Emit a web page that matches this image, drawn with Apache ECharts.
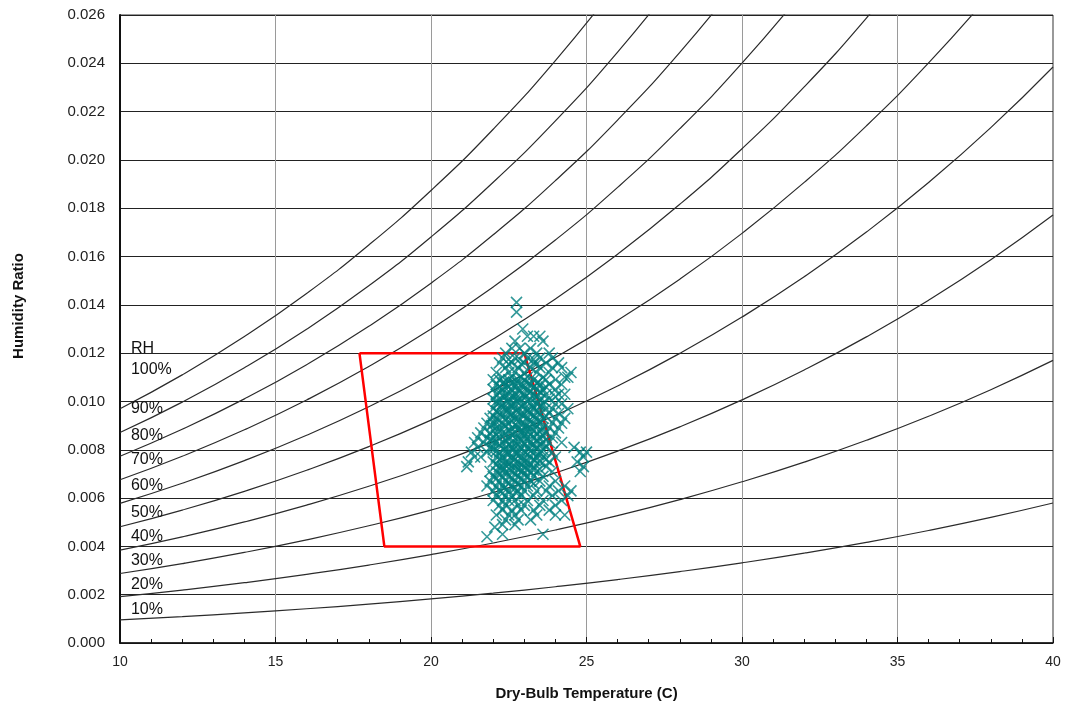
<!DOCTYPE html>
<html>
<head>
<meta charset="utf-8">
<script src="https://cdn.jsdelivr.net/npm/echarts@6/dist/echarts.min.js"></script>
<style>
html,body{margin:0;padding:0;background:#fff;}
#chart{width:1071px;height:711px;}
</style>
</head>
<body>
<div id="chart"></div>
<script>
// Dry-bulb temperatures at which the RH curves were read (C)
var temps = [10,12,14,16,18,20,22,24,26,28,30,32,34,36,38,40];
// Humidity ratio
var rh10  = [0.000956,0.001093,0.001246,0.001417,0.001609,0.001824,0.002063,0.002330,0.002626,0.002955,0.003319,0.003722,0.004168,0.004659,0.005200,0.005795];
var rh20  = [0.001916,0.002189,0.002496,0.002841,0.003227,0.003659,0.004141,0.004678,0.005275,0.005938,0.006674,0.007490,0.008392,0.009389,0.010488,0.011700];
var rh30  = [0.002878,0.003289,0.003752,0.004271,0.004853,0.005504,0.006232,0.007043,0.007946,0.008950,0.010066,0.011303,0.012673,0.014190,0.015867,0.017716];
var rh40  = [0.003843,0.004394,0.005013,0.005708,0.006488,0.007361,0.008337,0.009426,0.010640,0.011991,0.013494,0.015162,0.017013,0.019065,0.021337,0.023848];
var rh50  = [0.004812,0.005502,0.006279,0.007152,0.008131,0.009229,0.010456,0.011827,0.013357,0.015062,0.016960,0.019069,0.021412,0.024015,0.026901];
var rh60  = [0.005783,0.006614,0.007550,0.008602,0.009783,0.011107,0.012590,0.014247,0.016098,0.018162,0.020463,0.023024,0.025873,0.029043];
var rh70  = [0.006757,0.007730,0.008826,0.010059,0.011444,0.012997,0.014738,0.016685,0.018862,0.021293,0.024005,0.027028];
var rh80  = [0.007734,0.008850,0.010107,0.011522,0.013113,0.014898,0.016900,0.019142,0.021651,0.024454,0.027586];
var rh90  = [0.008715,0.009973,0.011394,0.012993,0.014791,0.016811,0.019078,0.021618,0.024463,0.027647];
var rh100 = [0.009698,0.011101,0.012686,0.014470,0.016478,0.018735,0.021270,0.024113,0.027301];
var rhCurves = [rh10,rh20,rh30,rh40,rh50,rh60,rh70,rh80,rh90,rh100];

// Curve labels at the left edge
var rhLabelText = ['RH','100%','90%','80%','70%','60%','50%','40%','30%','20%','10%'];
var rhLabelW    = [0.0122,0.0113,0.0097,0.0086,0.0076,0.0065,0.0054,0.0044,0.0034,0.0024,0.0014];
var rhLabelT    = 10.35;

// Comfort zone polygon
var zoneT = [17.7, 23.0, 24.8, 18.5, 17.7];
var zoneW = [0.012, 0.012, 0.004, 0.004, 0.012];

// Observed points: rows of humidity ratio with the temperatures seen in that row
var obsRows = [
  [0.0141,[22.75]],
  [0.0137,[22.75]],
  [0.0130,[22.95]],
  [0.0127,[23.1,23.3,23.5]],
  [0.0125,[22.7,23.6]],
  [0.0122,[22.6,22.85,23.2]],
  [0.0120,[22.4,23.0,23.4,23.8]],
  [0.0118,[22.3,22.7,23.1,23.5,23.9]],
  [0.01175,[22.5,22.85,23.3]],
  [0.0116,[22.2,22.6,23.0,23.3,23.7,24.1]],
  [0.01155,[22.5,22.9,23.4]],
  [0.0114,[22.4,22.8,23.2,23.5,23.9,24.2]],
  [0.0112,[22.1,22.5,22.7,23.0,23.4,23.8,24.5]],
  [0.0110,[22.3,22.6,22.9,23.1,23.6,24.3,24.4]],
  [0.0109,[22.0,22.2,22.5,22.8,23.0,23.3,23.7,24.0]],
  [0.0108,[22.35,22.65,23.05,23.45]],
  [0.01075,[22.3,22.55,22.8,23.15,23.4]],
  [0.0107,[22.1,22.4,22.7,22.9,23.2,23.5,23.8,24.2]],
  [0.0106,[22.2,22.5,22.95,23.3,23.7]],
  [0.0105,[22.0,22.3,22.6,22.8,23.1,23.4,23.6,24.0]],
  [0.0104,[22.25,22.85,23.2,23.5]],
  [0.01035,[22.2,22.55,22.9,23.15,23.55]],
  [0.0103,[22.1,22.4,22.5,22.7,23.0,23.3,23.7,24.1,24.3]],
  [0.0102,[22.35,22.65,23.05,23.4,24.0]],
  [0.0101,[22.0,22.2,22.5,22.8,22.9,23.2,23.5,23.8]],
  [0.0100,[22.1,22.45,22.75,23.1,23.65]],
  [0.00995,[22.2,22.5,22.85,23.2,23.45]],
  [0.0099,[22.1,22.3,22.6,22.7,23.0,23.4,23.6,24.0,24.2]],
  [0.0098,[22.25,22.55,22.9,23.25,23.5]],
  [0.0097,[22.0,22.4,22.5,22.8,23.1,23.3,23.7,23.9,24.4]],
  [0.0096,[22.1,22.45,22.75,23.1,23.4]],
  [0.00955,[22.15,22.5,22.8,23.15,23.45]],
  [0.0095,[22.2,22.3,22.6,22.9,23.0,23.2,23.5,23.8,24.1]],
  [0.0094,[22.0,22.55,22.95,23.3,23.7]],
  [0.0093,[21.9,22.1,22.4,22.7,22.8,23.1,23.4,23.6,24.0,24.3]],
  [0.0092,[22.2,22.6,23.15,23.45]],
  [0.00915,[22.1,22.45,22.8,23.2,23.55]],
  [0.0091,[21.8,22.0,22.3,22.5,22.9,23.0,23.3,23.5,23.9,24.2]],
  [0.0090,[21.95,22.4,22.75,23.05,23.4]],
  [0.0089,[21.7,22.1,22.2,22.6,22.8,23.1,23.2,23.6,23.8,24.1]],
  [0.0088,[22.0,22.5,22.95,23.3,23.55]],
  [0.00875,[22.15,22.55,22.85,23.15,23.5]],
  [0.0087,[21.6,21.9,22.3,22.4,22.7,22.9,23.0,23.4,23.7,24.0]],
  [0.0086,[22.1,22.6,23.0,23.2,23.6]],
  [0.0085,[21.5,21.8,22.0,22.2,22.5,22.8,23.1,23.3,23.5,23.9]],
  [0.0084,[21.9,22.4,22.9,23.4,23.7]],
  [0.00835,[22.0,22.45,22.8,23.1,23.45]],
  [0.0083,[21.4,21.7,22.1,22.3,22.6,22.7,23.0,23.2,23.6,23.8,24.2]],
  [0.0082,[22.2,22.5,22.8,23.25,23.5]],
  [0.0081,[21.5,21.9,22.0,22.4,22.6,22.9,23.1,23.4,23.7,24.6]],
  [0.0080,[22.0,22.35,22.65,23.15,23.6]],
  [0.00795,[22.1,22.4,22.85,23.2,23.55]],
  [0.0079,[21.3,21.8,22.2,22.5,22.7,22.8,23.0,23.3,23.5,23.9,24.8,25.0]],
  [0.0078,[22.45,22.75,23.1,23.45]],
  [0.0077,[21.4,21.6,22.1,22.3,22.6,22.9,23.2,23.4,23.6,24.0,24.9]],
  [0.0076,[22.2,22.7,23.3,23.7]],
  [0.00755,[22.3,22.65,22.95,23.35]],
  [0.0075,[21.2,22.0,22.4,22.5,22.8,23.0,23.1,23.5,23.8,24.7]],
  [0.0074,[22.1,22.5,22.9,23.2]],
  [0.0073,[21.15,22.2,22.3,22.6,22.7,23.0,23.3,23.7,24.9]],
  [0.0072,[22.35,22.8,23.1,23.5]],
  [0.00715,[22.25,22.55,22.95,23.3]],
  [0.0071,[21.9,22.1,22.4,22.6,22.9,23.2,23.4,23.9,24.8]],
  [0.0070,[22.2,22.7,23.0]],
  [0.0069,[22.0,22.3,22.5,22.8,23.1,23.3,23.6]],
  [0.0068,[22.1,22.6,22.9]],
  [0.0067,[21.9,22.2,22.4,22.7,23.0,23.2,23.5,24.0]],
  [0.0066,[22.5,22.8,23.3]],
  [0.0065,[21.8,22.1,22.3,22.6,22.9,23.1,23.8,24.3]],
  [0.0064,[22.35,22.7]],
  [0.0063,[22.0,22.2,22.5,22.8,23.0,23.4,23.7,24.1,24.5]],
  [0.0062,[22.3,22.75]],
  [0.0061,[22.1,22.4,22.6,22.9,23.3,23.9,24.4]],
  [0.0059,[22.0,22.3,22.5,22.7,23.1,23.6,24.2]],
  [0.0057,[22.2,22.4,22.8,23.0,23.5,24.0]],
  [0.0055,[22.3,22.6,22.9,23.3,23.8]],
  [0.0053,[22.1,22.5,22.7,23.4,24.0,24.3]],
  [0.0051,[22.4,22.8,23.2]],
  [0.0049,[22.3,22.7]],
  [0.0048,[22.05]],
  [0.0045,[22.3,23.6]],
  [0.0044,[21.8]]
];

var fontFam = 'Liberation Sans, Arial, sans-serif';

function curveData(arr){
  var out = [];
  for (var i = 0; i < arr.length; i++) out.push([temps[i], arr[i]]);
  return out;
}
var obsData = [];
obsRows.forEach(function(r){ r[1].forEach(function(t){ obsData.push([t, r[0]]); }); });
var zoneData = zoneT.map(function(t,i){ return [t, zoneW[i]]; });
var labelData = rhLabelText.map(function(s,i){ return [rhLabelT, rhLabelW[i], s]; });

var series = [];
rhCurves.forEach(function(arr){
  series.push({
    type:'line', data: curveData(arr), smooth: true,
    showSymbol:false, symbol:'none', clip:true, silent:true, z:3,
    lineStyle:{color:'#2b2b2b', width:1.2}
  });
});
series.push({
  type:'line', data: zoneData, showSymbol:false, symbol:'none', silent:true, z:4,
  lineStyle:{color:'#ff0000', width:2.5}
});
series.push({
  type:'scatter', data: obsData, symbol:'path://M0,0L10,10M10,0L0,10', symbolSize:11,
  silent:true, z:5,
  itemStyle:{color:'rgba(0,0,0,0)', borderColor:'#008080', borderWidth:1.6, opacity:0.8}
});
series.push({
  type:'scatter', data: labelData, symbolSize:0, silent:true, z:6,
  itemStyle:{opacity:1},
  label:{show:true, position:'right', distance:0, formatter:function(p){return p.value[2];},
         color:'#111', fontSize:16, fontFamily:fontFam, opacity:1}
});

var chart = echarts.init(document.getElementById('chart'), null, {renderer:'canvas'});
chart.setOption({
  animation:false,
  backgroundColor:'#fff',
  grid:{left:120, right:18, top:15, bottom:68, show:true, borderColor:'#333', borderWidth:1},
  xAxis:{
    type:'value', min:10, max:40, interval:5,
    axisLine:{show:true, onZero:false, lineStyle:{color:'#111', width:1.5}},
    axisTick:{show:true, inside:true, length:6, lineStyle:{color:'#111'}},
    minorTick:{show:true, splitNumber:5, length:4, lineStyle:{color:'#111'}},
    splitLine:{show:true, lineStyle:{color:'#9a9a9a', width:1}},
    axisLabel:{color:'#222', fontSize:14, margin:12, fontFamily:fontFam},
    name:'Dry-Bulb Temperature (C)', nameLocation:'middle', nameGap:43,
    nameTextStyle:{fontWeight:'bold', fontSize:15, color:'#111', fontFamily:fontFam}
  },
  yAxis:{
    type:'value', min:0, max:0.026, interval:0.002,
    axisLine:{show:true, lineStyle:{color:'#111', width:2}},
    axisTick:{show:false},
    splitLine:{show:true, lineStyle:{color:'#222', width:1}},
    axisLabel:{color:'#222', fontSize:15, margin:15, fontFamily:fontFam,
               formatter:function(v){ return v.toFixed(3); }}
  },
  graphic:[{
    type:'text', x:19, y:306, rotation:Math.PI/2,
    style:{text:'Humidity Ratio', font:'bold 15px ' + fontFam, fill:'#111',
           textAlign:'center', textVerticalAlign:'middle'}
  }],
  series: series
});
</script>
</body>
</html>
